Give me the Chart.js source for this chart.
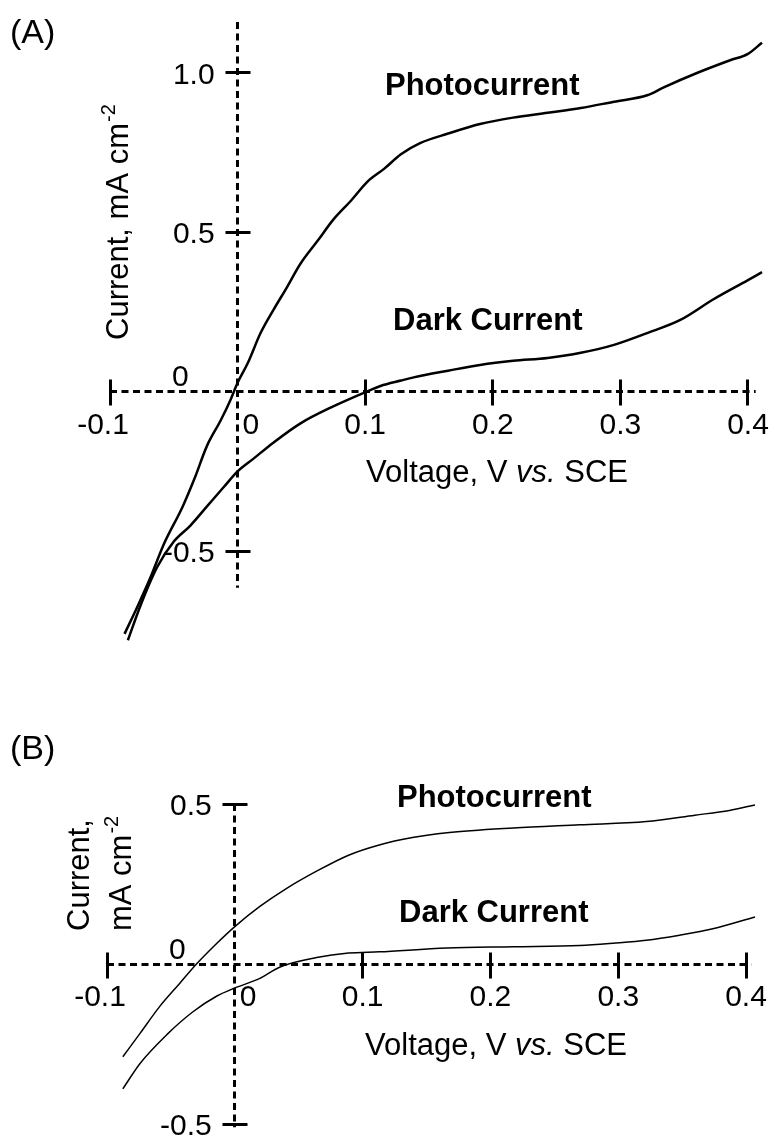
<!DOCTYPE html>
<html>
<head>
<meta charset="utf-8">
<title>Photocurrent and dark current vs. voltage</title>
<script src="https://cdn.jsdelivr.net/npm/chart.js@4.4.0/dist/chart.umd.min.js"></script>
<style>
  html, body { margin: 0; padding: 0; background: #fff; }
  .panel { position: absolute; left: 0; width: 774px; }
  #panelA { top: 0; height: 680px; }
  #panelB { top: 680px; height: 455px; }
</style>
</head>
<body>
<div class="panel" id="panelA"><canvas id="chartA" width="774" height="680"></canvas></div>
<div class="panel" id="panelB"><canvas id="chartB" width="774" height="455"></canvas></div>
<script>
// ===== Data (V vs. SCE, mA cm-2) =====

// Panel A
const photoA_V = [-0.0886, -0.078, -0.068, -0.058, -0.043, -0.034, -0.024, -0.013, -0.0055, 0, 0.008, 0.018, 0.028, 0.039, 0.049, 0.063, 0.075, 0.089, 0.102, 0.115, 0.128, 0.143, 0.165, 0.19, 0.216, 0.243, 0.269, 0.295, 0.321, 0.334, 0.36, 0.386, 0.40, 0.411];
const photoA_I = [-0.76, -0.67, -0.58, -0.48, -0.36, -0.275, -0.17, -0.088, -0.025, 0.028, 0.09, 0.184, 0.256, 0.33, 0.40, 0.475, 0.54, 0.60, 0.66, 0.70, 0.745, 0.78, 0.81, 0.84, 0.86, 0.875, 0.89, 0.91, 0.93, 0.955, 1.00, 1.04, 1.06, 1.095];
const darkA_V = [-0.086, -0.076, -0.063, -0.05, -0.037, -0.024, -0.011, 0, 0.0125, 0.028, 0.049, 0.075, 0.101, 0.112, 0.128, 0.138, 0.165, 0.19, 0.216, 0.243, 0.269, 0.295, 0.321, 0.347, 0.373, 0.40, 0.411];
const darkA_I = [-0.78, -0.67, -0.55, -0.47, -0.42, -0.36, -0.30, -0.25, -0.21, -0.16, -0.10, -0.046, 0.0, 0.018, 0.035, 0.045, 0.066, 0.084, 0.097, 0.106, 0.122, 0.147, 0.184, 0.225, 0.29, 0.35, 0.375];

// Panel B
const photoB_V = [-0.0876, -0.074, -0.059, -0.043, -0.030, -0.014, 0.0, 0.0196, 0.04, 0.064, 0.089, 0.113, 0.139, 0.166, 0.218, 0.27, 0.322, 0.36, 0.387, 0.407];
const photoB_I = [-0.29, -0.216, -0.134, -0.06, 0.0, 0.065, 0.117, 0.18, 0.235, 0.29, 0.34, 0.372, 0.395, 0.41, 0.425, 0.435, 0.445, 0.465, 0.48, 0.497];
const darkB_V = [-0.0876, -0.074, -0.053, -0.033, -0.014, 0.0, 0.0196, 0.035, 0.064, 0.089, 0.113, 0.166, 0.218, 0.27, 0.296, 0.322, 0.348, 0.374, 0.407];
const darkB_I = [-0.39, -0.31, -0.22, -0.15, -0.10, -0.075, -0.045, -0.01, 0.02, 0.034, 0.038, 0.05, 0.054, 0.058, 0.065, 0.074, 0.09, 0.11, 0.147];

// Tick values and labels
const xTicks = [-0.1, 0, 0.1, 0.2, 0.3, 0.4];
const xTickLabels = ['-0.1', '0', '0.1', '0.2', '0.3', '0.4'];
const yTicksA = [1.0, 0.5, 0, -0.5];
const yTickLabelsA = ['1.0', '0.5', '0', '-0.5'];
const yTicksB = [0.5, 0, -0.5];
const yTickLabelsB = ['0.5', '0', '-0.5'];

const seriesNames = ['Photocurrent', 'Dark Current'];

const FONT = '"Liberation Sans", "Helvetica Neue", Arial, sans-serif';

// Build {x, y} points from two arrays
function toPoints(vs, is) {
    return vs.map((v, i) => ({ x: v, y: is[i] }));
}

// Snap a pixel position to the middle of a pixel so 3px lines stay crisp
function crisp(px) {
    return Math.round(px - 0.5) + 0.5;
}

// Plugin: dashed cross axes through the origin, ticks, labels and titles
function crossAxesPlugin(p) {
    return {
        id: 'crossAxes',
        beforeDatasetsDraw(chart) {
            const ctx = chart.ctx;
            const xs = chart.scales.x, ys = chart.scales.y;
            const x0 = crisp(xs.getPixelForValue(0)), y0 = crisp(ys.getPixelForValue(0));

            ctx.save();
            ctx.strokeStyle = '#000';
            ctx.lineWidth = 3;
            ctx.setLineDash([7, 4.5]);
            ctx.beginPath();
            ctx.moveTo(xs.getPixelForValue(p.xAxisFrom), y0);
            ctx.lineTo(xs.getPixelForValue(p.xAxisTo), y0);
            ctx.moveTo(x0, ys.getPixelForValue(p.yAxisFrom));
            ctx.lineTo(x0, ys.getPixelForValue(p.yAxisTo));
            ctx.stroke();

            // Tick marks cross the axis
            ctx.setLineDash([]);
            ctx.beginPath();
            xTicks.forEach(v => {
                if (v === 0) return;
                const x = crisp(xs.getPixelForValue(v));
                ctx.moveTo(x, y0 - 12);
                ctx.lineTo(x, y0 + 14);
            });
            p.yTicks.forEach(v => {
                if (v === 0) return;
                const y = crisp(ys.getPixelForValue(v));
                ctx.moveTo(x0 - 12, y);
                ctx.lineTo(x0 + 13, y);
            });
            ctx.stroke();
            ctx.restore();
        },
        afterDraw(chart) {
            const ctx = chart.ctx;
            const xs = chart.scales.x, ys = chart.scales.y;
            const x0 = xs.getPixelForValue(0), y0 = ys.getPixelForValue(0);

            ctx.save();
            ctx.fillStyle = '#000';
            ctx.textBaseline = 'alphabetic';
            ctx.font = '30px ' + FONT;

            // X tick labels
            xTicks.forEach((v, i) => {
                const x = xs.getPixelForValue(v);
                if (v === 0) {
                    ctx.textAlign = 'left';
                    ctx.fillText(xTickLabels[i], x0 + 5, y0 + 42);
                } else {
                    ctx.textAlign = 'center';
                    ctx.fillText(xTickLabels[i], v < 0 ? x - 7 : x, y0 + 42);
                }
            });

            // Y tick labels
            ctx.textAlign = 'right';
            p.yTicks.forEach((v, i) => {
                if (v === 0) {
                    ctx.fillText(p.yTickLabels[i], x0 - 49, y0 - p.zeroLift);
                } else {
                    ctx.fillText(p.yTickLabels[i], x0 - 23, ys.getPixelForValue(v) + 11);
                }
            });

            // X axis title: "Voltage, V vs. SCE" with italic vs.
            const parts = [
                { t: 'Voltage, V ', f: '31px ' + FONT },
                { t: 'vs.', f: 'italic 31px ' + FONT },
                { t: ' SCE', f: '31px ' + FONT }
            ];
            let total = 0;
            parts.forEach(pt => { ctx.font = pt.f; pt.w = ctx.measureText(pt.t).width; total += pt.w; });
            let cx = p.xTitle.x - total / 2;
            ctx.textAlign = 'left';
            parts.forEach(pt => { ctx.font = pt.f; ctx.fillText(pt.t, cx, p.xTitle.y); cx += pt.w; });

            // Y axis title, rotated
            p.yTitle.forEach(line => {
                ctx.save();
                ctx.translate(line.x, line.y);
                ctx.rotate(-Math.PI / 2);
                ctx.textAlign = 'left';
                ctx.font = '31px ' + FONT;
                ctx.fillText(line.text, 0, 0);
                if (line.sup) {
                    const w = ctx.measureText(line.text).width;
                    ctx.font = '20px ' + FONT;
                    ctx.fillText(line.sup, w + 1, -13);
                }
                ctx.restore();
            });

            // Series names
            ctx.font = 'bold 31px ' + FONT;
            ctx.textAlign = 'left';
            p.names.forEach((n, i) => ctx.fillText(seriesNames[i], n.x, n.y));

            // Panel letter
            ctx.font = '34px ' + FONT;
            ctx.fillText(p.letter, 10, p.letterY);
            ctx.restore();
        }
    };
}

function makePanel(canvasId, photo, dark, lineWidth, scales, padding, p) {
    return new Chart(document.getElementById(canvasId), {
        type: 'scatter',
        data: {
            datasets: [
                { label: seriesNames[0], data: photo, showLine: true, borderColor: '#000', borderWidth: lineWidth,
                  pointRadius: 0, cubicInterpolationMode: 'monotone', clip: false },
                { label: seriesNames[1], data: dark, showLine: true, borderColor: '#000', borderWidth: lineWidth,
                  pointRadius: 0, cubicInterpolationMode: 'monotone', clip: false }
            ]
        },
        options: {
            responsive: false,
            animation: false,
            events: [],
            layout: { padding: padding },
            plugins: { legend: { display: false }, tooltip: { enabled: false } },
            scales: {
                x: { type: 'linear', min: scales.xMin, max: scales.xMax, display: false },
                y: { type: 'linear', min: scales.yMin, max: scales.yMax, display: false }
            }
        },
        plugins: [crossAxesPlugin(p)]
    });
}

// Panel A
makePanel('chartA', toPoints(photoA_V, photoA_I), toPoints(darkA_V, darkA_I), 2.5,
    { xMin: -0.1, xMax: 0.42, yMin: -0.84, yMax: 1.16 },
    { left: 110, right: 0.5, top: 22, bottom: 20.6 },
    {
        xAxisFrom: -0.1, xAxisTo: 0.406, yAxisFrom: 1.16, yAxisTo: -0.615,
        yTicks: yTicksA, yTickLabels: yTickLabelsA, zeroLift: 6,
        xTitle: { x: 497, y: 482 },
        yTitle: [{ text: 'Current, mA cm', sup: '-2', x: 128, y: 340 }],
        names: [{ x: 385, y: 95 }, { x: 393, y: 330 }],
        letter: '(A)', letterY: 43
    });

// Panel B
makePanel('chartB', toPoints(photoB_V, photoB_I), toPoints(darkB_V, darkB_I), 1.5,
    { xMin: -0.1, xMax: 0.42, yMin: -0.53, yMax: 0.53 },
    { left: 107, right: 2.4, top: 114.4, bottom: 1.4 },
    {
        xAxisFrom: -0.1, xAxisTo: 0.404, yAxisFrom: 0.5, yAxisTo: -0.51,
        yTicks: yTicksB, yTickLabels: yTickLabelsB, zeroLift: 5,
        xTitle: { x: 496, y: 375 },
        yTitle: [{ text: 'Current,', x: 89, y: 251 }, { text: 'mA cm', sup: '-2', x: 131, y: 251 }],
        names: [{ x: 397, y: 127 }, { x: 399, y: 242 }],
        letter: '(B)', letterY: 79
    });
</script>
</body>
</html>
